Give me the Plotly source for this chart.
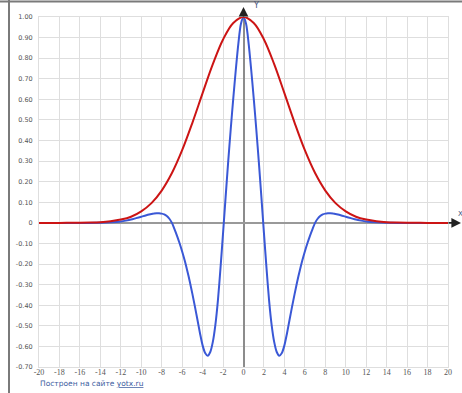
import plotly.graph_objects as go

# ---- data ----
red_x = [-20, -18, -16, -15, -14, -13, -12, -11, -10, -9, -8, -7, -6, -5, -4, -3, -2, -1, 0,
         1, 2, 3, 4, 5, 6, 7, 8, 9, 10, 11, 12, 13, 14, 15, 16, 18, 20]
red_y = [0.0, 0.0, 0.0006, 0.0015, 0.0035, 0.008, 0.016, 0.030, 0.056, 0.096, 0.157, 0.242, 0.353, 0.486, 0.630, 0.771, 0.891, 0.971, 1.0,
         0.971, 0.891, 0.771, 0.630, 0.486, 0.353, 0.242, 0.157, 0.096, 0.056, 0.030, 0.016, 0.008, 0.0035, 0.0015, 0.0006, 0.0, 0.0]

blue_x = [-20, -18, -16, -15, -14, -13, -12, -11.5, -11, -10.5, -10, -9.5,
          -9, -8.75, -8.5, -8.25, -8, -7.75, -7.5, -7.25, -7, -6.75, -6.5, -6.25, -6, -5.75, -5.5, -5.25,
          -5, -4.75, -4.5, -4.25, -4, -3.75, -3.5, -3.25, -3, -2.75, -2.5, -2.25, -2, -1.75, -1.5, -1.25,
          -1, -0.75, -0.5, -0.25, 0, 0.25, 0.5, 0.75, 1, 1.25, 1.5, 1.75, 2, 2.25, 2.5, 2.75,
          3, 3.25, 3.5, 3.75, 4, 4.25, 4.5, 4.75, 5, 5.25, 5.5, 5.75, 6, 6.25, 6.5, 6.75,
          7, 7.25, 7.5, 7.75, 8, 8.25, 8.5, 8.75, 9,
          9.5, 10, 10.5, 11, 11.5, 12, 13, 14, 15, 16, 18, 20]
blue_y = [0.0, 0.0, 0.0, 0.0, 0.001, 0.003, 0.007, 0.011, 0.016, 0.023, 0.030, 0.037,
          0.043, 0.046, 0.047, 0.047, 0.045, 0.041, 0.033, 0.020, 0.0, -0.030, -0.063, -0.099, -0.139, -0.183, -0.232, -0.286,
          -0.345, -0.407, -0.472, -0.537, -0.595, -0.632, -0.645, -0.627, -0.578, -0.495, -0.375, -0.220, -0.050, 0.125, 0.295, 0.455,
          0.605, 0.745, 0.872, 0.967, 1.0, 0.967, 0.872, 0.745, 0.605, 0.455, 0.295, 0.125, -0.050, -0.220, -0.375, -0.495,
          -0.578, -0.627, -0.645, -0.632, -0.595, -0.537, -0.472, -0.407, -0.345, -0.286, -0.232, -0.183, -0.139, -0.099, -0.063, -0.030,
          0.0, 0.020, 0.033, 0.041, 0.045, 0.047, 0.047, 0.046, 0.043,
          0.037, 0.030, 0.023, 0.016, 0.011, 0.007, 0.003, 0.001, 0.0, 0.0, 0.0, 0.0]

x_ticks = list(range(-20, 21, 2))
x_tick_labels = [str(v) for v in x_ticks]
y_ticks = [1.0, 0.9, 0.8, 0.7, 0.6, 0.5, 0.4, 0.3, 0.2, 0.1, 0.0, -0.1, -0.2, -0.3, -0.4, -0.5, -0.6, -0.7]
y_tick_labels = ["1.00", "0.90", "0.80", "0.70", "0.60", "0.50", "0.40", "0.30", "0.20", "0.10", "0",
                 "-0.10", "-0.20", "-0.30", "-0.40", "-0.50", "-0.60", "-0.70"]

# ---- figure ----
W, H = 462, 393
ML, MR, MT, MB = 39, 14, 17, 26
PW, PH = W - ML - MR, H - MT - MB

fig = go.Figure()
fig.add_trace(go.Scatter(x=blue_x, y=blue_y, mode="lines",
                         line=dict(color="#3a58d6", width=2, shape="spline", smoothing=0.8),
                         hoverinfo="skip"))
fig.add_trace(go.Scatter(x=red_x, y=red_y, mode="lines",
                         line=dict(color="#cc1414", width=2, shape="spline", smoothing=1.0),
                         hoverinfo="skip"))

grid = "#dedede"
fig.update_layout(
    width=W, height=H,
    margin=dict(l=ML, r=MR, t=MT, b=MB, pad=0, autoexpand=False),
    paper_bgcolor="white", plot_bgcolor="white",
    showlegend=False,
    xaxis=dict(range=[-20, 20], tickvals=x_ticks, ticktext=x_tick_labels,
               showgrid=True, gridcolor=grid, gridwidth=1, automargin=False,
               zeroline=True, zerolinecolor="#8c8c8c", zerolinewidth=2,
               showline=True, mirror=True, linecolor=grid, linewidth=1,
               ticks="", ticklabelstandoff=-3,
               tickfont=dict(family="Liberation Serif", size=8, color="#555555"),
               fixedrange=True),
    yaxis=dict(range=[-0.7, 1.0], tickvals=y_ticks, ticktext=y_tick_labels,
               showgrid=True, gridcolor=grid, gridwidth=1, automargin=False,
               zeroline=True, zerolinecolor="#999999", zerolinewidth=2,
               showline=True, mirror=True, linecolor=grid, linewidth=1,
               ticks="", ticklabelstandoff=4,
               tickfont=dict(family="DejaVu Sans", size=6.5, color="#555555"),
               fixedrange=True),
)

def px_x(p):
    return (p - ML) / PW

def px_y(p):
    return (H - MB - p) / PH

annotations = [
    # x-axis arrow extension
    dict(xref="paper", yref="y", x=px_x(461), y=0, ax=-14, ay=0, text="", showarrow=True,
         arrowhead=2, arrowsize=1.2, arrowwidth=1.6, arrowcolor="#222222"),
    # y-axis arrow extension
    dict(xref="x", yref="paper", x=0, y=px_y(7), ax=0, ay=11, text="", showarrow=True,
         arrowhead=2, arrowsize=1.2, arrowwidth=1.6, arrowcolor="#222222"),
    dict(xref="x", yref="paper", x=0, y=px_y(5), xshift=7, text="Y", showarrow=False,
         xanchor="left", yanchor="middle", font=dict(family="DejaVu Sans", size=8, color="#3b4f7a")),
    dict(xref="paper", yref="y", x=px_x(456), y=0, yshift=9, text="X", showarrow=False,
         xanchor="left", yanchor="middle", font=dict(family="DejaVu Sans", size=7, color="#3b4f7a")),
    dict(xref="paper", yref="paper", x=px_x(38), y=px_y(384), text='Построен на сайте <span style="text-decoration:underline">yotx.ru</span>',
         showarrow=False, xanchor="left", yanchor="middle",
         font=dict(family="DejaVu Sans", size=7.5, color="#3c5da0")),
]
fig.update_layout(annotations=annotations)

# screenshot frame (top and left grey border)
fig.update_layout(shapes=[
    dict(type="line", xref="paper", yref="paper", x0=px_x(0), x1=px_x(W), y0=px_y(1.5), y1=px_y(1.5),
         line=dict(color="#7a7a7a", width=2)),
    dict(type="line", xref="paper", yref="paper", x0=px_x(9), x1=px_x(9), y0=px_y(0), y1=px_y(H),
         line=dict(color="#7a7a7a", width=2)),
])

fig.write_html("out.html", config={"displayModeBar": False},
               post_script="document.body.style.margin='0';document.body.style.overflow='hidden';")
